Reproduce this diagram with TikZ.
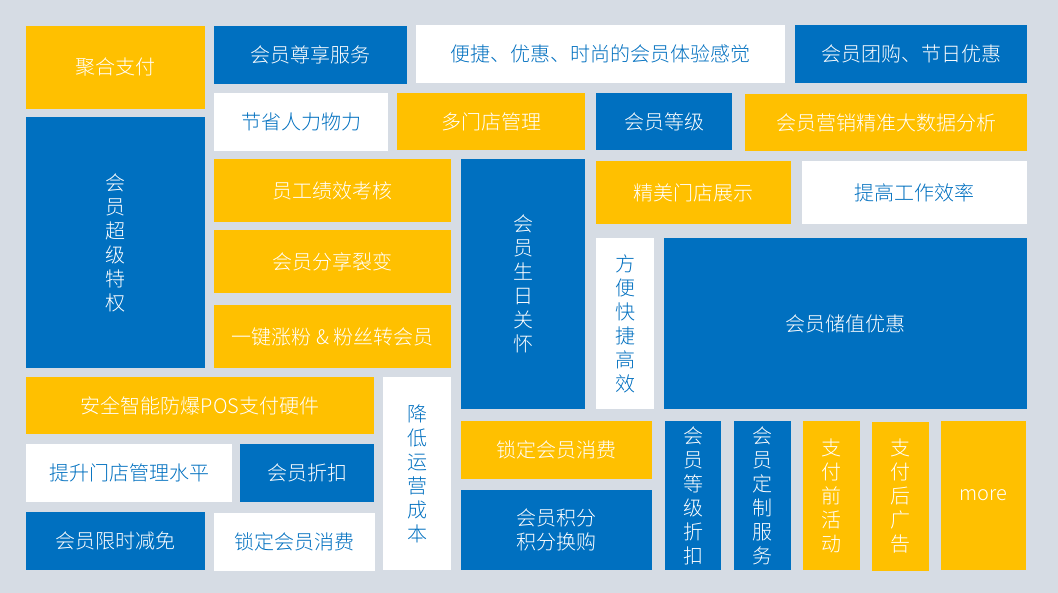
\documentclass[tikz,border=0pt]{standalone}
\usepackage{fontspec}
\setmainfont{Noto Sans CJK SC Light}
\definecolor{bg}{HTML}{D6DCE4}
\definecolor{yel}{HTML}{FFC000}
\definecolor{blu}{HTML}{0070C0}
\tikzset{
  tile/.style={anchor=north west, inner sep=0pt, outer sep=0pt, align=center,
    font=\fontsize{20}{24}\selectfont},
  ytile/.style={tile, fill=yel, text=white},
  btile/.style={tile, fill=blu, text=white},
  wtile/.style={tile, fill=white, text=blu},
}
\newcommand\mytile[7]{\node[#1,minimum width={(#5-#3)*1pt},minimum height={(#6-#4)*1pt}] (#2) at (#3,#4) {#7};}
\begin{document}
\begin{tikzpicture}[x=1pt,y=-1pt]
\fill[bg] (0,0) rectangle (1058,593);
\useasboundingbox (0,0) rectangle (1058,593);
\mytile{ytile}{a1}{26}{26}{205}{109}{聚合支付}
\mytile{btile}{a2}{214}{26}{407}{84}{会员尊享服务}
\mytile{wtile}{a3}{416}{25}{785}{83}{便捷、优惠、时尚的会员体验感觉}
\mytile{btile}{a4}{795}{25}{1027}{83}{会员团购、节日优惠}
\mytile{wtile}{b1}{214}{93}{388}{151}{节省人力物力}
\mytile{ytile}{b2}{397}{93}{585}{150}{多门店管理}
\mytile{btile}{b3}{596}{93}{732}{150}{会员等级}
\mytile{ytile}{b4}{745}{94}{1027}{151}{会员营销精准大数据分析}
\mytile{btile}{c1}{26}{117}{205}{368}{会\\员\\超\\级\\特\\权}
\mytile{ytile}{c2}{214}{159}{451}{222}{员工绩效考核}
\mytile{ytile}{c3}{214}{230}{451}{293}{会员分享裂变}
\mytile{ytile}{c4}{214}{305}{451}{368}{一键涨粉 \& 粉丝转会员}
\mytile{btile}{c5}{461}{159}{585}{409}{会\\员\\生\\日\\关\\怀}
\mytile{ytile}{c6}{596}{161}{791}{224}{精美门店展示}
\mytile{wtile}{c7}{802}{161}{1027}{224}{提高工作效率}
\mytile{wtile}{c8}{596}{238}{654}{409}{方\\便\\快\\捷\\高\\效}
\mytile{btile}{c9}{664}{238}{1027}{409}{会员储值优惠}
\mytile{ytile}{d1}{26}{377}{374}{434}{安全智能防爆POS支付硬件}
\mytile{wtile}{d2}{383}{377}{451}{570}{降\\低\\运\\营\\成\\本}
\mytile{wtile}{d3}{26}{444}{232}{502}{提升门店管理水平}
\mytile{btile}{d4}{240}{444}{374}{502}{会员折扣}
\mytile{btile}{d5}{26}{512}{205}{570}{会员限时减免}
\mytile{wtile}{d6}{214}{513}{375}{571}{锁定会员消费}
\mytile{ytile}{e1}{461}{421}{652}{479}{锁定会员消费}
\mytile{btile}{e2}{461}{490}{652}{570}{会员积分\\积分换购}
\mytile{btile}{e3}{665}{421}{721}{570}{会\\员\\等\\级\\折\\扣}
\mytile{btile}{e4}{734}{421}{791}{570}{会\\员\\定\\制\\服\\务}
\mytile{ytile}{e5}{803}{421}{860}{570}{支\\付\\前\\活\\动}
\mytile{ytile}{e6}{872}{422}{929}{571}{支\\付\\后\\广\\告}
\mytile{ytile}{e7}{941}{421}{1026}{570}{more}
\end{tikzpicture}
\end{document}
